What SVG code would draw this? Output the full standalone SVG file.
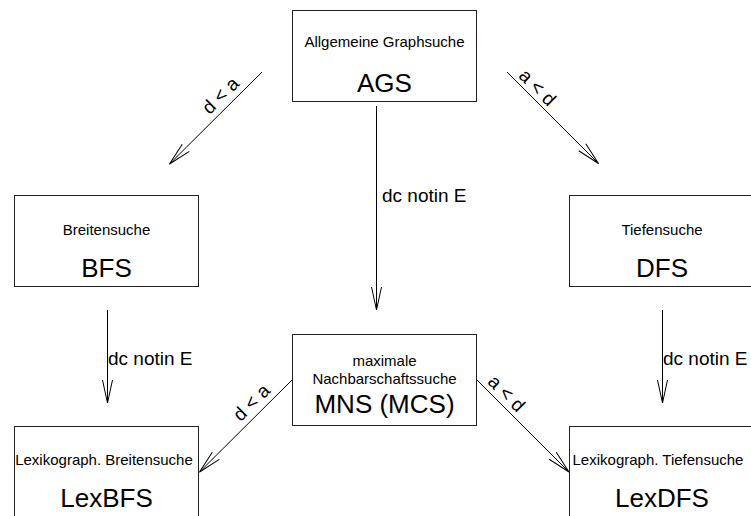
<svg xmlns="http://www.w3.org/2000/svg" width="751" height="516" viewBox="0 0 751 516">
<style>
.box{fill:#fff;stroke:#222;stroke-width:1}
.sm{font-family:"Liberation Sans",Arial,sans-serif;font-size:15px;fill:#000;text-anchor:middle}
.big{font-family:"Liberation Sans",Arial,sans-serif;font-size:26px;fill:#000;text-anchor:middle}
.lbl{font-family:"Liberation Sans",Arial,sans-serif;font-size:19px;fill:#000}
.edge{stroke:#000;stroke-width:1;fill:none;marker-end:url(#arr)}
</style>
<defs>
<marker id="arr" markerUnits="userSpaceOnUse" viewBox="-24 -7 26 14" markerWidth="26" markerHeight="14" refX="0" refY="0" orient="auto" overflow="visible">
<path d="M-23,-5 L0,0 L-23,5" fill="none" stroke="#000" stroke-width="1"/>
</marker>
</defs>
<rect width="751" height="516" fill="#fff"/>
<g id="connectors">
<line class="edge" x1="262" y1="72" x2="169.5" y2="164"/>
<line class="edge" x1="507" y1="72" x2="598.5" y2="163.5"/>
<line class="edge" x1="376.5" y1="106" x2="376.5" y2="310"/>
<line class="edge" x1="107.5" y1="310" x2="107.5" y2="403"/>
<line class="edge" x1="662.5" y1="310" x2="662.5" y2="403"/>
<line class="edge" x1="292" y1="380" x2="199.5" y2="472"/>
<line class="edge" x1="477" y1="380" x2="569" y2="472"/>
<text class="lbl" text-anchor="middle" x="225" y="100" transform="rotate(-45 225 100)">d &lt; a</text>
<text class="lbl" text-anchor="middle" x="533" y="92" transform="rotate(45 533 92)">a &lt; d</text>
<text class="lbl" x="382" y="202">dc notin E</text>
<text class="lbl" x="108" y="365">dc notin E</text>
<text class="lbl" x="663" y="365">dc notin E</text>
<text class="lbl" text-anchor="middle" x="256" y="407" transform="rotate(-45 256 407)">d &lt; a</text>
<text class="lbl" text-anchor="middle" x="502" y="398" transform="rotate(45 502 398)">a &lt; d</text>
</g>
<g id="AGS">
<rect class="box" x="292.5" y="10.5" width="184" height="91"/>
<text class="sm" x="384.5" y="47">Allgemeine Graphsuche</text>
<text class="big" x="384.5" y="92">AGS</text>
</g>
<g id="BFS">
<rect class="box" x="14.5" y="195.5" width="184" height="91"/>
<text class="sm" x="106.5" y="235">Breitensuche</text>
<text class="big" x="106.5" y="277">BFS</text>
</g>
<g id="DFS">
<rect class="box" x="569.5" y="195.5" width="186" height="91"/>
<text class="sm" x="662" y="235">Tiefensuche</text>
<text class="big" x="662" y="277">DFS</text>
</g>
<g id="MNS">
<rect class="box" x="292.5" y="334.5" width="184" height="91"/>
<text class="sm" x="384.5" y="366">maximale</text>
<text class="sm" x="384.5" y="384">Nachbarschaftssuche</text>
<text class="big" x="384.5" y="413">MNS (MCS)</text>
</g>
<g id="LexBFS">
<rect class="box" x="14.5" y="426.5" width="184" height="100"/>
<text class="sm" x="104" y="465">Lexikograph. Breitensuche</text>
<text class="big" x="106.5" y="507">LexBFS</text>
</g>
<g id="LexDFS">
<rect class="box" x="569.5" y="426.5" width="186" height="100"/>
<text class="sm" x="658" y="465">Lexikograph. Tiefensuche</text>
<text class="big" x="662" y="507">LexDFS</text>
</g>
</svg>
